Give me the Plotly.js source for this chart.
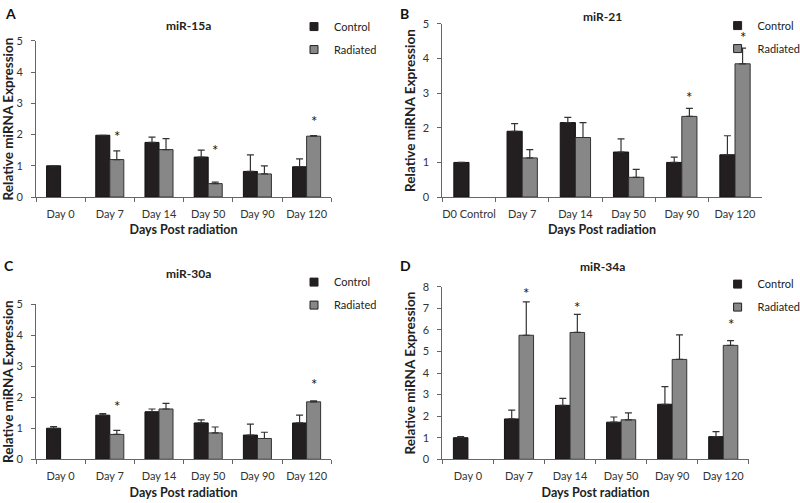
<!DOCTYPE html>
<html>
<head>
<meta charset="utf-8">
<script src="https://cdn.plot.ly/plotly-3.0.1.min.js"></script>
<style>html,body{margin:0;padding:0;background:#fff}#chart{width:800px;height:503px}</style>
</head>
<body>
<div id="chart"></div>
<script>
// ---- data ----
const catsA = ['Day 0','Day 7','Day 14','Day 50','Day 90','Day 120'];
const catsB = ['D0 Control','Day 7','Day 14','Day 50','Day 90','Day 120'];
const catsC = ['Day 0','Day 7','Day 14','Day 50','Day 90','Day 120'];
const catsD = ['Day 0','Day 7','Day 14','Day 50','Day 90','Day 120'];

const ctrlA = [1.0, 1.98, 1.75, 1.28, 0.82, 0.97];
const ctrlErrA = [null, null, 0.17, 0.22, 0.53, 0.25];
const radA = [null, 1.2, 1.52, 0.43, 0.74, 1.95];
const radErrA = [null, 0.28, 0.35, 0.05, 0.26, 0.02];
const starCatA = [1, 3, 5];
const starYA = [2.04, 1.61, 2.52];

const ctrlB = [1.0, 1.9, 2.15, 1.3, 1.0, 1.22];
const ctrlErrB = [null, 0.22, 0.15, 0.38, 0.15, 0.55];
const radB = [null, 1.13, 1.72, 0.57, 2.33, 3.85];
const radErrB = [null, 0.24, 0.43, 0.23, 0.23, 0.45];
const starCatB = [4, 5];
const starYB = [2.97, 4.72];

const ctrlC = [1.0, 1.42, 1.53, 1.17, 0.78, 1.17];
const ctrlErrC = [0.05, 0.05, 0.09, 0.1, 0.35, 0.25];
const radC = [null, 0.8, 1.62, 0.85, 0.67, 1.85];
const radErrC = [null, 0.13, 0.18, 0.19, 0.2, 0.03];
const starCatC = [1, 5];
const starYC = [1.8, 2.52];

const ctrlD = [1.0, 1.87, 2.5, 1.72, 2.55, 1.05];
const ctrlErrD = [0.05, 0.41, 0.32, 0.24, 0.82, 0.23];
const radD = [null, 5.75, 5.88, 1.83, 4.63, 5.28];
const radErrD = [null, 1.55, 0.84, 0.32, 1.14, 0.22];
const starCatD = [1, 2, 5];
const starYD = [7.87, 7.19, 6.42];

const titles = ['miR-15a','miR-21','miR-30a','miR-34a'];
const letters = ['A','B','C','D'];
const seriesNames = ['Control','Radiated'];
const yMax = [5, 5, 5, 8];

// ---- build ----
const FONT = 'Lato, "Open Sans", sans-serif';
const CTRL_COL = '#231f20', RAD_COL = '#878787';
const panels = [
  {cats: catsA, c: ctrlA, ce: ctrlErrA, r: radA, re: radErrA, sc: starCatA, sy: starYA},
  {cats: catsB, c: ctrlB, ce: ctrlErrB, r: radB, re: radErrB, sc: starCatB, sy: starYB},
  {cats: catsC, c: ctrlC, ce: ctrlErrC, r: radC, re: radErrC, sc: starCatC, sy: starYC},
  {cats: catsD, c: ctrlD, ce: ctrlErrD, r: radD, re: radErrD, sc: starCatD, sy: starYD}
];
const xDom = [[0.045, 0.414], [0.553, 0.952], [0.045, 0.414], [0.553, 0.936]];
const yDom = [[0.6083, 0.9185], [0.6083, 0.9523], [0.0869, 0.3956], [0.0869, 0.43]];
const legPos = [[0.3675, 0.976], [0.897, 0.978], [0.3675, 0.468], [0.897, 0.464]];
const titlePos = [[0.236, 0.95], [0.753, 0.968], [0.236, 0.457], [0.753, 0.471]];
const letterPos = [[0.004, 0.995], [0.497, 0.995], [0.002, 0.493], [0.497, 0.493]];
const BARGAP = 0.43;

const traces = [];
const annotations = [];
const layout = {
  width: 800, height: 503,
  margin: {l: 0, r: 0, t: 0, b: 0, autoexpand: false},
  paper_bgcolor: '#fff', plot_bgcolor: '#fff',
  font: {family: FONT, size: 11, color: '#222'},
  barmode: 'group', bargap: BARGAP, bargroupgap: 0,
  showlegend: true,
  annotations: annotations
};

panels.forEach((p, i) => {
  const n = i === 0 ? '' : String(i + 1);
  const xa = 'x' + n, ya = 'y' + n;
  const leg = 'legend' + n;
  const zeros = p.c.map(() => 0);
  const series = [
    {y: p.c, e: p.ce, col: CTRL_COL, line: '#111', name: seriesNames[0]},
    {y: p.r, e: p.re, col: RAD_COL, line: '#333', name: seriesNames[1]}
  ];
  series.forEach((s) => {
    traces.push({
      type: 'bar', x: p.cats, y: s.y, name: s.name, xaxis: xa, yaxis: ya,
      showlegend: false,
      marker: {color: s.col, line: {color: s.line, width: 1}},
      error_y: {type: 'data', symmetric: false, array: s.e, arrayminus: zeros, color: '#333', thickness: 1.2, width: 3.5},
      hoverinfo: 'x+y'
    });
  });
  series.forEach((s, k) => {
    traces.push({
      type: 'scatter', mode: 'markers', x: [null], y: [null], name: s.name,
      xaxis: xa, yaxis: ya, legend: leg, legendgroup: 'g' + i + k, showlegend: true,
      marker: {symbol: 'square', size: 8, color: s.col, line: {color: '#222', width: 1}}
    });
  });
  layout['xaxis' + n] = {
    domain: xDom[i], anchor: ya, type: 'category',
    showline: true, linecolor: '#666', linewidth: 1,
    ticks: 'outside', tickson: 'boundaries', ticklen: 4, tickcolor: '#666',
    tickangle: 0, ticklabelstandoff: 7,
    showgrid: false, zeroline: false,
    tickfont: {family: FONT, size: 11, color: '#333'},
    title: {text: '<b>Days Post radiation</b>', font: {family: FONT, size: 12.5, color: '#222'}, standoff: 6},
    automargin: false
  };
  layout['yaxis' + n] = {
    domain: yDom[i], anchor: xa, range: [0, yMax[i]], dtick: 1,
    showline: true, linecolor: '#666', linewidth: 1,
    ticks: 'outside', ticklen: 4, tickcolor: '#666', ticklabelstandoff: 6,
    showgrid: false, zeroline: false,
    tickfont: {family: FONT, size: 11, color: '#333'},
    title: {text: '<b>Relative miRNA Expression</b>', font: {family: FONT, size: 13.5, color: '#222'}, standoff: 4},
    automargin: false
  };
  layout[leg] = {
    x: legPos[i][0], y: legPos[i][1], xanchor: 'left', yanchor: 'top',
    bgcolor: 'rgba(0,0,0,0)', font: {family: FONT, size: 11, color: '#222'},
    traceorder: 'grouped', tracegroupgap: 4, itemwidth: 30
  };
  annotations.push({
    text: '<b>' + titles[i] + '</b>', xref: 'paper', yref: 'paper',
    x: titlePos[i][0], y: titlePos[i][1], xanchor: 'center', yanchor: 'middle',
    showarrow: false, font: {family: FONT, size: 12, color: '#222'}
  });
  annotations.push({
    text: '<b>' + letters[i] + '</b>', xref: 'paper', yref: 'paper',
    x: letterPos[i][0], y: letterPos[i][1], xanchor: 'left', yanchor: 'top',
    showarrow: false, font: {family: FONT, size: 14, color: '#111'}
  });
  const off = (1 - BARGAP) / 4;
  p.sc.forEach((ci, k) => {
    annotations.push({
      text: '*', xref: xa, yref: ya, x: ci + off, y: p.sy[k],
      xanchor: 'center', yanchor: 'middle', yshift: -3,
      showarrow: false, font: {family: FONT, size: 15, color: '#111'}
    });
  });
});

Plotly.newPlot('chart', traces, layout, {staticPlot: true});
</script>
</body>
</html>
